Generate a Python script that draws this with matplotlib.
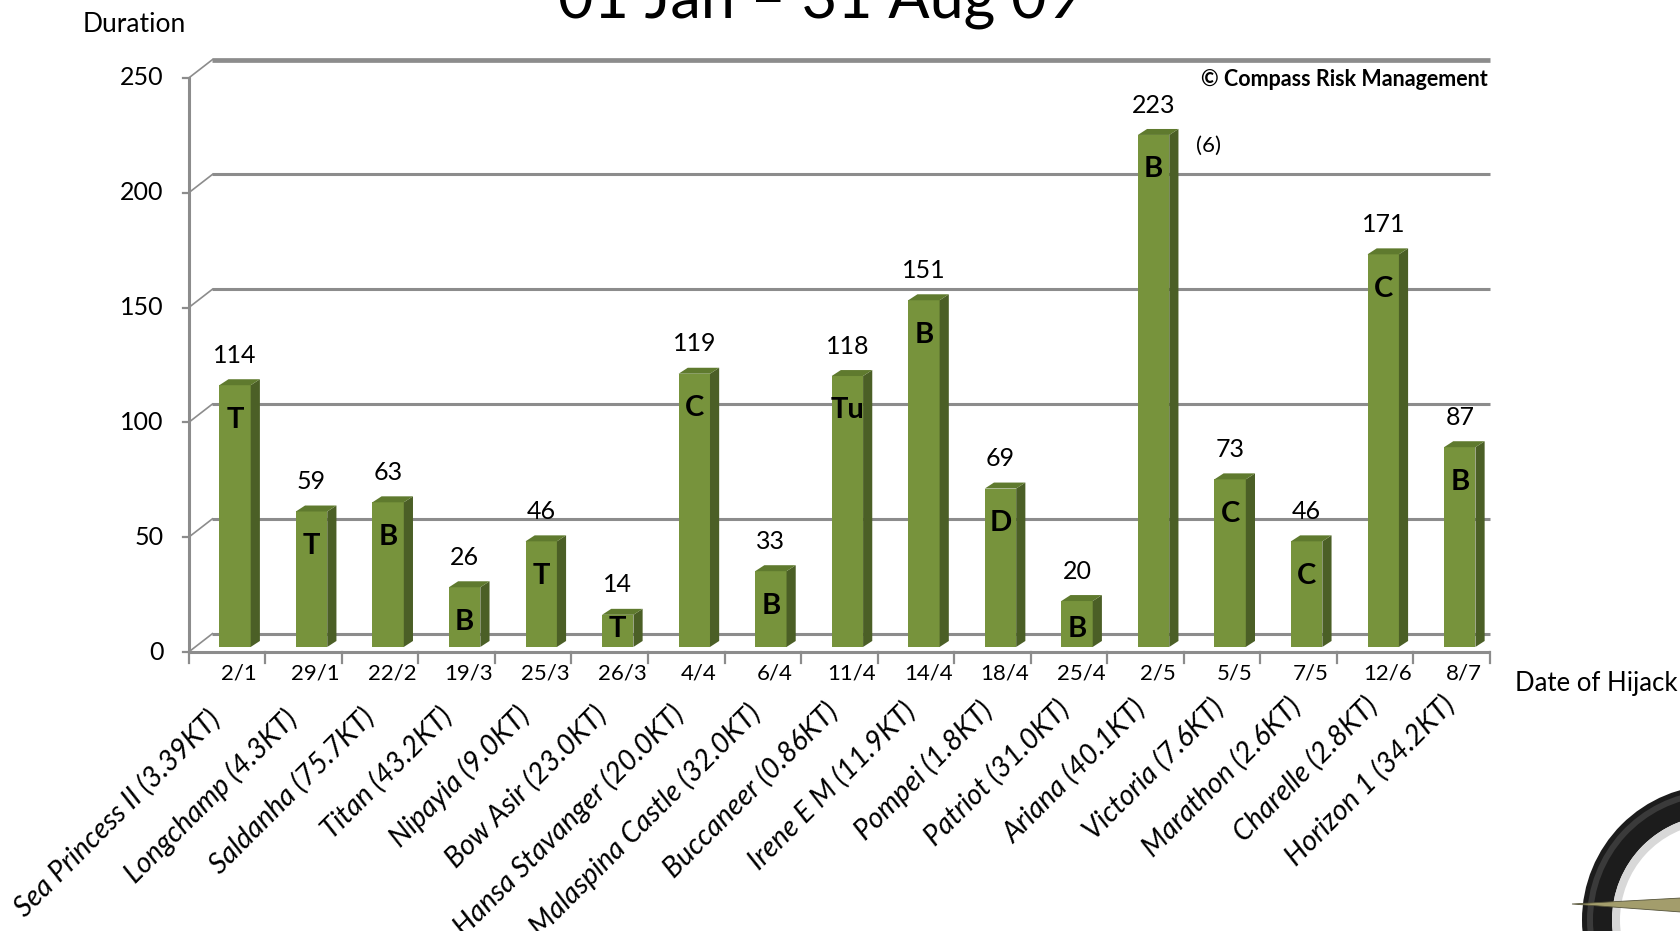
import matplotlib
matplotlib.use('Agg')
import matplotlib.pyplot as plt
from matplotlib.patches import Polygon, Rectangle, Wedge

# ---------------- data ----------------
ships = ["Sea Princess II (3.39KT)", "Longchamp (4.3KT)", "Saldanha (75.7KT)", "Titan (43.2KT)",
         "Nipayia (9.0KT)", "Bow Asir (23.0KT)", "Hansa Stavanger (20.0KT)", "Malaspina Castle (32.0KT)",
         "Buccaneer (0.86KT)", "Irene E M (11.9KT)", "Pompei (1.8KT)", "Patriot (31.0KT)",
         "Ariana (40.1KT)", "Victoria (7.6KT)", "Marathon (2.6KT)", "Charelle (2.8KT)", "Horizon 1 (34.2KT)"]
dates = ["2/1", "29/1", "22/2", "19/3", "25/3", "26/3", "4/4", "6/4", "11/4", "14/4",
         "18/4", "25/4", "2/5", "5/5", "7/5", "12/6", "8/7"]
durations = [114, 59, 63, 26, 46, 14, 119, 33, 118, 151, 69, 20, 223, 73, 46, 171, 87]
types = ["T", "T", "B", "B", "T", "T", "C", "B", "Tu", "B", "D", "B", "B", "C", "C", "C", "B"]
yticks = [0, 50, 100, 150, 200, 250]

plt.rcParams['font.family'] = ['Lato', 'DejaVu Sans']

W, H = 1681, 931
fig = plt.figure(figsize=(W / 100, H / 100), dpi=100)

# background overlay for logo (pixel coordinates)
bg = fig.add_axes([0, 0, 1, 1], zorder=0)
bg.set_xlim(0, W); bg.set_ylim(H, 0); bg.axis('off')
bg.add_patch(Wedge((1717, 920), 135, 90, 270, width=30, facecolor='#1c1c1c', edgecolor='none'))
bg.add_patch(Wedge((1717, 920), 130, 95, 265, width=6, facecolor='#3a3a3a', edgecolor='none'))
bg.add_patch(Wedge((1717, 920), 105, 95, 265, width=8, facecolor='#d8d8d8', edgecolor='none'))
bg.add_patch(Polygon([(1572, 904), (1681, 898), (1681, 912)], closed=True,
                     facecolor='#a39d6c', edgecolor='#55533a', lw=0.6))

n = len(durations)
ax = fig.add_axes([188.7 / W, 1 - 652 / H, (1490 - 188.7) / W, (652 - 78) / H], zorder=2)
ax.set_xlim(0, n); ax.set_ylim(0, 250); ax.axis('off')

DX, DY = 0.31, 8          # back wall offset
grid_c = '#8c8c8c'
for v in yticks:
    lw = 3.4 if v == yticks[-1] else 2.2
    ax.plot([DX, n], [v + DY, v + DY], color=grid_c, lw=lw, clip_on=False, zorder=1,
            solid_capstyle='butt')
    ax.plot([0, DX], [v, v + DY], color=grid_c, lw=1.2, clip_on=False, zorder=1)
    ax.plot([-0.08, 0], [v, v], color=grid_c, lw=1.6, clip_on=False, zorder=1)
    ax.text(-0.33, v, str(v), ha='right', va='center', fontsize=18, color='black')
ax.plot([0, 0], [0, 250], color=grid_c, lw=2.2, clip_on=False, zorder=1)
ax.plot([0, n], [0, 0], color=grid_c, lw=2.2, clip_on=False, zorder=1, solid_capstyle='butt')
for i in range(n + 1):
    ax.plot([i, i], [0, -4.7], color=grid_c, lw=1.6, clip_on=False, zorder=1)

# 3D bars
front_c, side_c, top_c = '#77933c', '#4b5f26', '#5f7a2e'
base = 2.2
x_off, bw = 0.40, 0.41
sdx, sdy = 0.12, 2.6
for i, v in enumerate(durations):
    x0 = i + x_off
    x1 = x0 + bw
    t = base + v
    ax.add_patch(Rectangle((x0, base), bw, v, facecolor=front_c, edgecolor='none',
                           zorder=3, clip_on=False))
    ax.add_patch(Polygon([(x1, base), (x1 + sdx, base + sdy), (x1 + sdx, t + sdy), (x1, t)],
                         closed=True, facecolor=side_c, edgecolor='none', zorder=3, clip_on=False))
    ax.add_patch(Polygon([(x0, t), (x0 + sdx, t + sdy), (x1 + sdx, t + sdy), (x1, t)],
                         closed=True, facecolor=top_c, edgecolor='none', zorder=3, clip_on=False))
    cx = x0 + bw / 2
    ax.text(cx, t + 13, str(v), ha='center', va='center', fontsize=18, color='black',
            zorder=5, clip_on=False)
    ax.text(cx, max(t - 15, 10), types[i], ha='center', va='center', fontsize=21,
            fontweight='bold', color='black', zorder=5, clip_on=False)
    ax.text(i + 0.66, -9.4, dates[i], ha='center', va='center', fontsize=16, color='black',
            clip_on=False)
    ax.text(i + 0.36 + 0.008 * i, -27.5 + 0.4 * i, ships[i], ha='right', va='center',
            rotation=45, rotation_mode='anchor', fontsize=20.5, style='italic', color='black',
            clip_on=False)

fig.text(134 / W, 1 - 24 / H, "Duration", ha='center', va='center', fontsize=19)
fig.text(1596 / W, 1 - 683 / H, "Date of Hijack", ha='center', va='center', fontsize=18.5)
fig.text(820 / W, 1 - 19 / H, "01 Jan \u2013 31 Aug 09", ha='center', va='baseline', fontsize=44)
fig.text(1488 / W, 1 - 79 / H, "\u00a9 Compass Risk Management", ha='right', va='center',
         fontsize=15.5, fontweight='bold')
fig.text(1209 / W, 1 - 146 / H, "(6)", ha='center', va='center', fontsize=16)

fig.savefig('out.png', dpi=100, facecolor='white')
